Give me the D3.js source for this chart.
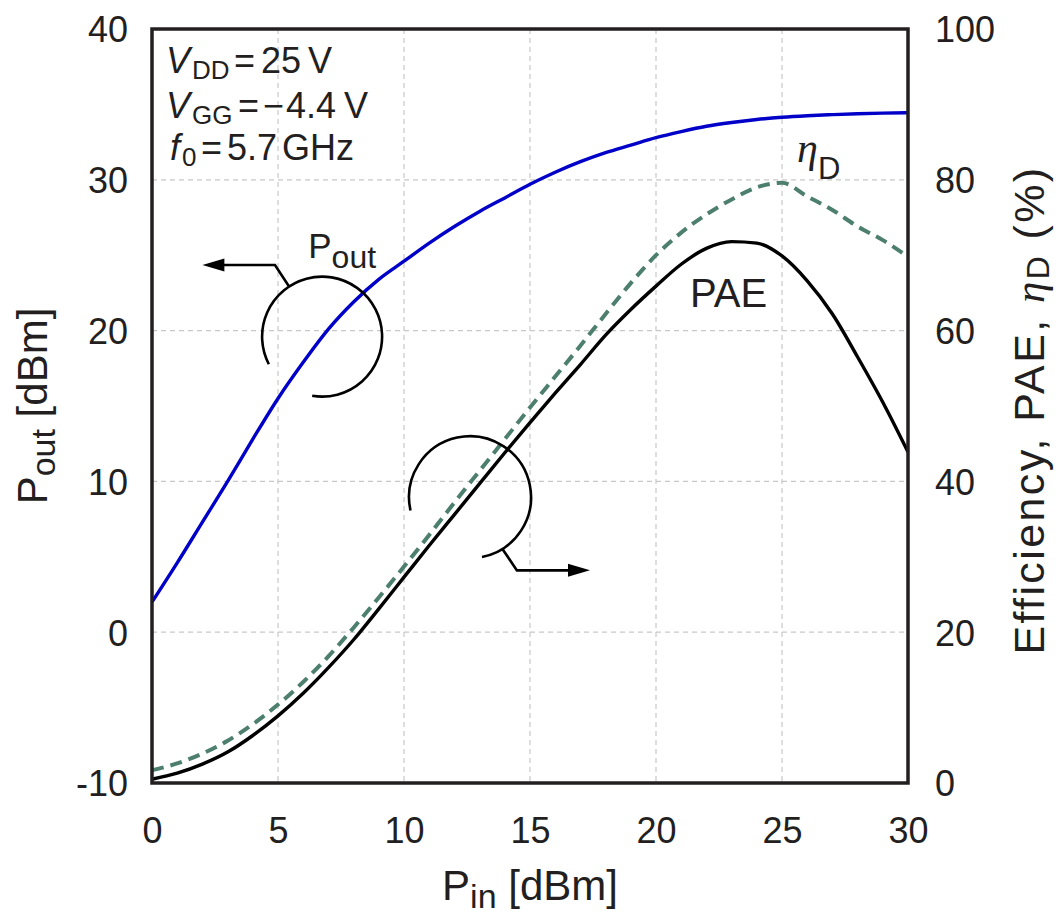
<!DOCTYPE html>
<html><head><meta charset="utf-8">
<script src="https://cdn.jsdelivr.net/npm/d3@7/dist/d3.min.js"></script>
<style>
body{margin:0;background:#fff}
svg{display:block}
text{font-family:"Liberation Sans",Arial,sans-serif;fill:#231f20}
</style></head>
<body><svg id="c" width="1057" height="915"></svg>
<script>
// ---- data ----
const pin = [0,1,2,3,4,5,6,7,8,9,10,11,12,13,14,15,16,17,18,19,20,21,22,23,24,25,26,27,28,29,30];
const pout = [2.0,4.6,7.3,10.0,12.8,15.5,17.9,20.1,21.9,23.4,24.6,25.8,26.9,27.9,28.8,29.7,30.5,31.2,31.8,32.3,32.8,33.2,33.55,33.8,34.0,34.15,34.25,34.32,34.38,34.42,34.45];
const pae = [0.5,1.3,2.5,4.1,6.3,8.9,11.9,15.3,19.0,23.1,27.3,31.5,35.6,39.7,43.8,47.8,51.7,55.5,59.4,62.8,65.9,68.8,70.9,71.8,71.6,69.9,66.6,62.2,56.5,50.5,43.9];
const etaD = [1.7,2.6,3.9,5.6,7.8,10.4,13.4,16.8,20.6,24.6,28.7,32.9,37.2,41.4,45.6,49.8,53.9,58.0,62.2,66.3,70.0,73.0,75.4,77.4,79.0,79.6,77.8,76.0,73.8,72.0,69.8];
const xTicks = [0,5,10,15,20,25,30];
const yLeftTicks = [-10,0,10,20,30,40];
const yRightTicks = [0,20,40,60,80,100];

const svg = d3.select("#c");
const L=152, R=908, T=29, B=783;
const x = d3.scaleLinear().domain([0,30]).range([L,R]);
const yL = d3.scaleLinear().domain([-10,40]).range([B,T]);
const yR = d3.scaleLinear().domain([0,100]).range([B,T]);
const ink = "#231f20";

// grid
const grid = svg.append("g").attr("stroke","#c8c8c8").attr("stroke-width",1.2).attr("stroke-dasharray","5,4");
xTicks.slice(1,-1).forEach(v=>grid.append("line").attr("x1",x(v)).attr("x2",x(v)).attr("y1",T).attr("y2",B));
yLeftTicks.slice(1,-1).forEach(v=>grid.append("line").attr("x1",L).attr("x2",R).attr("y1",yL(v)).attr("y2",yL(v)));

// axes
const fs = 36;
const fmt = d=>String(d);
function styleTicks(g){
  g.select(".domain").remove();
  g.selectAll("text").style("font-size",fs+"px").style("fill",ink).style("font-family","Liberation Sans, Arial, sans-serif");
}
const gx = svg.append("g").attr("transform",`translate(0,${B})`).call(d3.axisBottom(x).tickValues(xTicks).tickSize(0).tickFormat(fmt));
styleTicks(gx); gx.selectAll("text").attr("dy",null).attr("y",60);
const gl = svg.append("g").attr("transform",`translate(${L},0)`).call(d3.axisLeft(yL).tickValues(yLeftTicks).tickSize(0).tickPadding(24).tickFormat(fmt));
styleTicks(gl); gl.selectAll("text").attr("dy","0.36em");
const gr = svg.append("g").attr("transform",`translate(${R},0)`).call(d3.axisRight(yR).tickValues(yRightTicks).tickSize(0).tickPadding(27).tickFormat(fmt));
styleTicks(gr); gr.selectAll("text").attr("dy","0.36em");

// curves
const idx = pin.map((d,i)=>i);
svg.append("path").attr("fill","none").attr("stroke","#4d7f6e").attr("stroke-width",4).attr("stroke-dasharray","12,7")
  .attr("d", d3.line().x(i=>x(pin[i])).y(i=>yR(etaD[i])).curve(d3.curveMonotoneX)(idx));
svg.append("path").attr("fill","none").attr("stroke","#000").attr("stroke-width",3.4)
  .attr("d", d3.line().x(i=>x(pin[i])).y(i=>yR(pae[i])).curve(d3.curveMonotoneX)(idx));
svg.append("path").attr("fill","none").attr("stroke","#0000c8").attr("stroke-width",3.4)
  .attr("d", d3.line().x(i=>x(pin[i])).y(i=>yL(pout[i])).curve(d3.curveMonotoneX)(idx));

// frame
svg.append("rect").attr("x",L).attr("y",T).attr("width",R-L).attr("height",B-T).attr("fill","none").attr("stroke",ink).attr("stroke-width",3.5);

// annotation arcs
const deg = Math.PI/180;
function circleArrow(cx, cy, r, a0, a1, aAttach, ex, ey, tx, dir){
  const p = d3.path();
  p.moveTo(cx + r*Math.cos(a0*deg), cy + r*Math.sin(a0*deg));
  p.arc(cx, cy, r, a0*deg, a1*deg, false);
  const ax = cx + r*Math.cos(aAttach*deg), ay = cy + r*Math.sin(aAttach*deg);
  p.moveTo(ax, ay); p.lineTo(ex, ey); p.lineTo(tx - dir*20, ey);
  svg.append("path").attr("d", p.toString()).attr("fill","none").attr("stroke","#000").attr("stroke-width",2.6);
  svg.append("path").attr("d", `M${tx},${ey}L${tx-dir*22},${ey-6.5}L${tx-dir*22},${ey+6.5}Z`).attr("fill","#000");
}
circleArrow(x(6.75), yL(19.6), 60, 152.6, 459.5, 236.6, x(4.88), yL(24.35), x(2.0), -1);
circleArrow(x(12.62), yR(37.9), 61, 167.4, 438.7, 57.9, x(14.48), yR(28.2), x(17.38), 1);

// labels
const lp = svg.append("text").attr("x", x(6.2)).attr("y", yL(24.8)).style("font-size","35px");
lp.append("tspan").text("P");
lp.append("tspan").attr("dy",10).style("font-size","32px").text("out");

svg.append("text").attr("x", x(21.35)).attr("y", yR(63.1)).style("font-size","40px").text("PAE");
const le = svg.append("text").attr("x", x(25.6)).attr("y", yR(82.4));
le.append("tspan").style("font-family","Liberation Serif, serif").style("font-style","italic").style("font-size","42px").text("η");
le.append("tspan").attr("dy",17).style("font-size","31px").text("D");

// info box
function infoLine(y, parts){
  const t = svg.append("text").attr("y", y).style("font-size","36px");
  parts.forEach(p=>{
    const s = t.append("tspan").attr("x", p.x).text(p.t);
    if(p.it) s.style("font-style","italic");
    if(p.sub){ s.attr("dy", 6).style("font-size","26px"); }
    if(p.back){ s.attr("dy", -6); }
  });
}
infoLine(73, [{x:166,t:"V",it:true},{x:192,t:"DD",sub:true},{x:234,t:"=",back:true},{x:261,t:"25"},{x:308,t:"V"}]);
infoLine(118, [{x:166,t:"V",it:true},{x:192,t:"GG",sub:true},{x:238,t:"=",back:true},{x:263,t:"\u2212"},{x:286,t:"4.4"},{x:344,t:"V"}]);
infoLine(160, [{x:170,t:"f",it:true},{x:182,t:"0",sub:true},{x:201,t:"=",back:true},{x:227,t:"5.7"},{x:282,t:"GHz"}]);

// axis titles
const bt = svg.append("text").attr("x",(L+R)/2).attr("y",900).attr("text-anchor","middle").style("font-size","42px");
bt.append("tspan").text("P");
bt.append("tspan").attr("dy",8).style("font-size","34px").text("in");
bt.append("tspan").attr("dy",-8).text(" [dBm]");

const lt = svg.append("text").attr("transform",`translate(47,${(T+B)/2}) rotate(-90)`).attr("text-anchor","middle").style("font-size","42px");
lt.append("tspan").text("P");
lt.append("tspan").attr("dy",8).style("font-size","34px").text("out");
lt.append("tspan").attr("dy",-8).text(" [dBm]");

const rt = svg.append("text").attr("transform",`translate(1044,${(T+B)/2 + 4}) rotate(-90)`).attr("text-anchor","middle")
  .style("font-size","43px").style("letter-spacing","2.4px");
rt.append("tspan").text("Efficiency, PAE, ");
rt.append("tspan").style("font-family","Liberation Serif, serif").style("font-style","italic").text("η");
rt.append("tspan").attr("dy",5).style("font-size","32px").text("D");
rt.append("tspan").attr("dy",-5).text(" (%)");
</script></body></html>
